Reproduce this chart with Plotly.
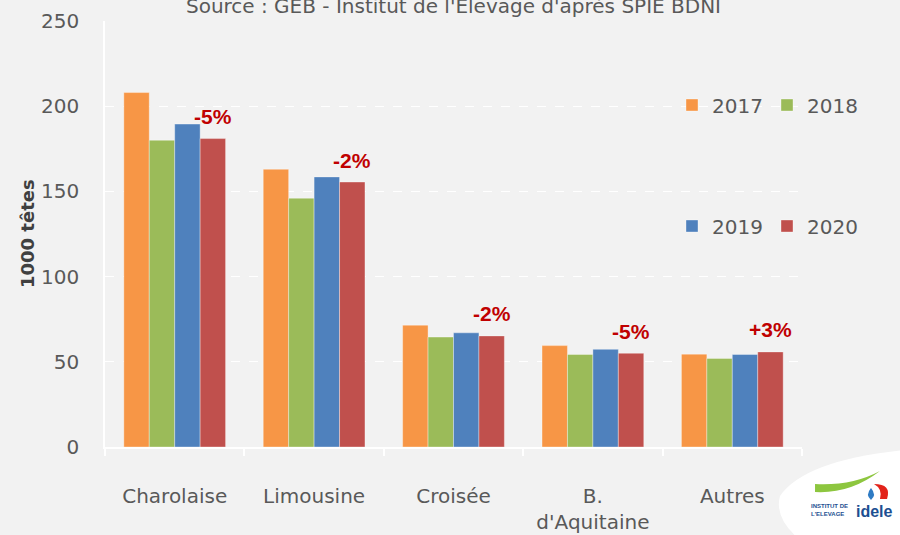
import plotly.graph_objects as go

categories = ["Charolaise", "Limousine", "Croisée", "B.<br>d'Aquitaine", "Autres"]
v2017 = [208, 163, 71.5, 59.5, 54.5]
v2018 = [180, 146, 64.5, 54.3, 52]
v2019 = [189.5, 158.5, 67, 57.3, 54.3]
v2020 = [181, 155.5, 65.2, 55, 55.8]
evolution = ["-5%", "-2%", "-2%", "-5%", "+3%"]
years = ["2017", "2018", "2019", "2020"]
colors = ["#F79646", "#9BBB59", "#4F81BD", "#C0504D"]
series = [v2017, v2018, v2019, v2020]

W, H = 900, 535
ML, MR, MT, MB = 105, 98, 21, 88
PW, PH = W - ML - MR, H - MT - MB


def px(x, y):
    return (x - ML) / PW, (H - MB - y) / PH


FONT = "DejaVu Sans"
GREY = "#595959"
BARGAP = 0.27

fig = go.Figure()
for i, (yr, vals, col) in enumerate(zip(years, series, colors)):
    fig.add_trace(go.Bar(
        x=categories, y=vals, name=yr,
        marker=dict(color=col, line=dict(color="rgba(255,255,255,0.35)", width=1)),
        legend="legend" if i < 2 else "legend2",
    ))

# evolution labels above the 2020 bars
offset = (1 - BARGAP) / 4 * 1.5
for i, (lab, val) in enumerate(zip(evolution, v2020)):
    fig.add_annotation(x=i + offset, y=val, text="<b>" + lab + "</b>", showarrow=False,
                       yshift=22, yanchor="middle", xanchor="center",
                       font=dict(family="Liberation Sans", size=21, color="#C00000"))

# y axis title
fig.add_annotation(xref="paper", yref="paper", x=px(27, 0)[0], y=0.5,
                   text="<b>1000 têtes</b>", textangle=-90, showarrow=False,
                   xanchor="center", yanchor="middle",
                   font=dict(family="DejaVu Sans", size=18, color="#404040"))


# logo (decorative)
def path(points, close=True):
    s = ""
    for cmd, pts in points:
        s += cmd + " " + " ".join("%.4f,%.4f" % px(*p) for p in pts) + " "
    return s + ("Z" if close else "")


fig.add_shape(type="path", xref="paper", yref="paper", layer="above",
              path=path([("M", [(780, 496)]), ("Q", [(805, 460), (905, 450)]),
                         ("L", [(905, 540)]), ("L", [(800, 540)]),
                         ("Q", [(774, 518), (780, 496)])]),
              fillcolor="white", line=dict(width=0))
fig.add_shape(type="path", xref="paper", yref="paper", layer="above",
              path=path([("M", [(815, 492)]), ("Q", [(850, 494), (880, 471)]),
                         ("Q", [(852, 486), (815, 484)])]),
              fillcolor="#8DC63F", line=dict(width=0))
fig.add_shape(type="path", xref="paper", yref="paper", layer="above",
              path=path([("M", [(874, 484)]), ("Q", [(892, 484), (887, 499)]),
                         ("L", [(880, 499)]), ("Q", [(883, 489), (874, 484)])]),
              fillcolor="#E2231A", line=dict(width=0))
fig.add_shape(type="path", xref="paper", yref="paper", layer="above",
              path=path([("M", [(871, 488)]), ("Q", [(877, 495), (871, 500)]),
                         ("Q", [(865, 495), (871, 488)])]),
              fillcolor="#2E7BC4", line=dict(width=0))
fig.add_annotation(xref="paper", yref="paper", x=px(829, 0)[0], y=px(0, 510)[1],
                   text="<b>INSTITUT DE<br>L'ELEVAGE</b>", showarrow=False,
                   font=dict(family="Liberation Sans", size=6, color="#1D4F91"),
                   xanchor="center", yanchor="middle", align="left")
fig.add_annotation(xref="paper", yref="paper", x=px(874, 0)[0], y=px(0, 511)[1],
                   text="<b>idele</b>", showarrow=False,
                   font=dict(family="Liberation Sans", size=16, color="#1D4F91"),
                   xanchor="center", yanchor="middle")

leg_common = dict(orientation="h", xanchor="left", yanchor="middle",
                  bgcolor="rgba(0,0,0,0)", font=dict(family=FONT, size=20, color=GREY),
                  entrywidth=50, entrywidthmode="pixels", itemwidth=30,
                  traceorder="normal")

fig.update_layout(
    width=W, height=H,
    margin=dict(l=ML, r=MR, t=MT, b=MB, autoexpand=False),
    paper_bgcolor="#F2F2F2", plot_bgcolor="#F2F2F2",
    barmode="group", bargap=BARGAP, bargroupgap=0,
    font=dict(family=FONT, size=20, color=GREY),
    title=dict(text="Source : GEB - Institut de l'Elevage d'après SPIE BDNI",
               x=0.5, xref="paper", xanchor="center", y=1 - 6 / H, yanchor="middle",
               font=dict(family=FONT, size=20, color=GREY)),
    legend=dict(x=px(672, 0)[0], y=px(0, 105)[1], **leg_common),
    legend2=dict(x=px(672, 0)[0], y=px(0, 226)[1], **leg_common),
    xaxis=dict(type="category", showline=True, linecolor="white", linewidth=2,
               ticks="outside", tickson="boundaries", ticklen=7, tickcolor="white",
               tickwidth=1.5, showgrid=False, ticklabelstandoff=30,
               tickfont=dict(family=FONT, size=20, color=GREY)),
    yaxis=dict(range=[0, 250], dtick=50, showline=True, linecolor="white", linewidth=1.5,
               showgrid=True, gridcolor="white", griddash="dash", gridwidth=1,
               zeroline=False, ticks="", ticklabelstandoff=20,
               tickfont=dict(family=FONT, size=20, color=GREY)),
)

fig.write_html("out.html", config={"displayModeBar": False},
               post_script="document.body.style.margin='0';document.body.style.overflow='hidden';")
